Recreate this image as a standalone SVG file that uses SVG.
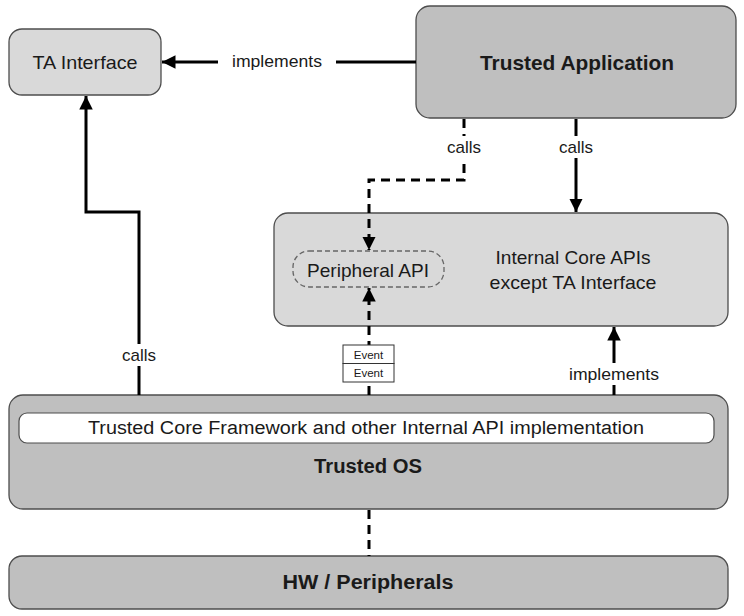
<svg xmlns="http://www.w3.org/2000/svg" width="744" height="616" viewBox="0 0 744 616">
<style>
text{font-family:"Liberation Sans",Arial,sans-serif;fill:#1a1a1a;text-anchor:middle;dominant-baseline:central}
.lt{fill:#d9d9d9;stroke:#4d4d4d;stroke-width:1.3}
.dk{fill:#bfbfbf;stroke:#4d4d4d;stroke-width:1.3}
.b{font-weight:bold}
.ln{fill:none;stroke:#000;stroke-width:3}
.da{stroke-dasharray:9,6}
</style>
<defs>
<marker id="ah" viewBox="0 0 10 10" refX="10" refY="5" markerWidth="4.5" markerHeight="4.5" orient="auto" markerUnits="strokeWidth"><path d="M0,0L10,5L0,10z" fill="#000"/></marker>
</defs>
<rect width="744" height="616" fill="#fff"/>
<g id="ta-interface"><rect class="lt" x="9" y="29" width="152" height="66" rx="13"/><text x="85" y="62" font-size="18.5" textLength="105" lengthAdjust="spacingAndGlyphs">TA Interface</text></g>
<g id="trusted-application"><rect class="dk" x="416" y="6" width="320" height="112" rx="14"/><text class="b" x="577" y="62" font-size="20.5" textLength="194" lengthAdjust="spacingAndGlyphs">Trusted Application</text></g>
<g id="internal-core"><rect class="lt" x="274" y="213" width="454" height="113" rx="14"/><text x="573" y="257" font-size="18.5" textLength="155" lengthAdjust="spacingAndGlyphs">Internal Core APIs</text><text x="573" y="282" font-size="18.5" textLength="167" lengthAdjust="spacingAndGlyphs">except TA Interface</text></g>
<g id="peripheral-api"><rect x="293" y="251" width="151" height="36" rx="16" fill="none" stroke="#666" stroke-width="1.3" stroke-dasharray="5,3"/><text x="368" y="270" font-size="18.5" textLength="122" lengthAdjust="spacingAndGlyphs">Peripheral API</text></g>
<g id="trusted-os"><rect class="dk" x="9" y="395" width="719" height="114" rx="14"/><rect x="19" y="413" width="695" height="30" rx="8" fill="#fff" stroke="#4d4d4d" stroke-width="1.2"/><text x="366" y="428" font-size="18" textLength="556" lengthAdjust="spacingAndGlyphs">Trusted Core Framework and other Internal API implementation</text><text class="b" x="368" y="466" font-size="20" textLength="108" lengthAdjust="spacingAndGlyphs">Trusted OS</text></g>
<g id="hw"><rect class="dk" x="9" y="556" width="719" height="53" rx="13"/><text class="b" x="368" y="582" font-size="20" textLength="171" lengthAdjust="spacingAndGlyphs">HW / Peripherals</text></g>
<g id="connectors">
<path class="ln" d="M416,62H336"/><path class="ln" d="M218,62H162" marker-end="url(#ah)"/>
<text x="277" y="61" font-size="17" textLength="90" lengthAdjust="spacingAndGlyphs">implements</text>
<path class="ln" d="M139,395V212H86V96" marker-end="url(#ah)"/>
<rect x="118" y="344" width="42" height="22" fill="#fff"/>
<text x="139" y="355" font-size="17" textLength="34" lengthAdjust="spacingAndGlyphs">calls</text>
<path class="ln da" d="M464,119V180H369V250" marker-end="url(#ah)"/>
<rect x="444" y="136" width="40" height="22" fill="#fff"/>
<text x="464" y="147" font-size="17" textLength="34" lengthAdjust="spacingAndGlyphs">calls</text>
<path class="ln" d="M576,119V212" marker-end="url(#ah)"/>
<rect x="556" y="136" width="40" height="22" fill="#fff"/>
<text x="576" y="147" font-size="17" textLength="34" lengthAdjust="spacingAndGlyphs">calls</text>
<path class="ln da" d="M369,395V288" marker-end="url(#ah)"/>
<g id="events"><rect x="343" y="345" width="51" height="18.5" fill="#fff" stroke="#333" stroke-width="1"/><rect x="343" y="363.5" width="51" height="18.5" fill="#fff" stroke="#333" stroke-width="1"/><text x="368.5" y="354.5" font-size="11.5">Event</text><text x="368.5" y="373" font-size="11.5">Event</text></g>
<path class="ln" d="M614,395V327" marker-end="url(#ah)"/>
<rect x="566" y="363" width="96" height="22" fill="#fff"/>
<text x="614" y="374" font-size="17" textLength="90" lengthAdjust="spacingAndGlyphs">implements</text>
<path class="ln da" d="M369,510V556"/>
</g>
</svg>
